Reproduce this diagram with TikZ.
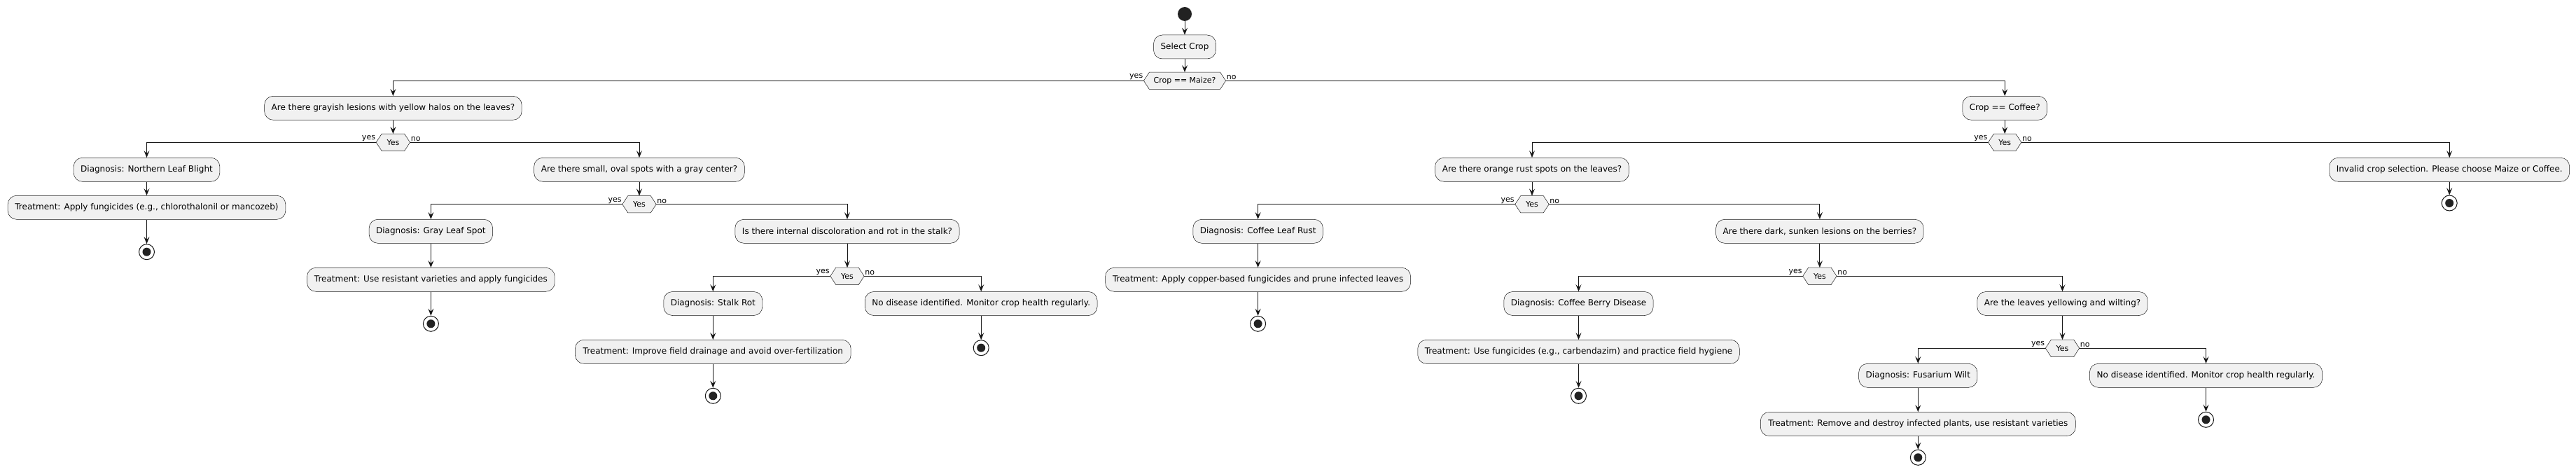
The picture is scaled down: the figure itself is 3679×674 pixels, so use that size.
\documentclass[tikz,border=0pt]{standalone}
\usepackage{fontspec}
\setmainfont{DejaVu Sans}
\usetikzlibrary{arrows.meta,backgrounds}
\definecolor{lc}{HTML}{181818}
\definecolor{bf}{HTML}{F1F1F1}
\definecolor{dk}{HTML}{222222}
\tikzset{
  act/.style={draw=lc, line width=0.5pt, fill=bf, rounded corners=12.5pt, minimum height=34pt,
    inner xsep=10pt, inner ysep=0pt, font=\fontsize{12}{14}\selectfont, text=black},
  dec/.style={minimum height=24pt, minimum width=48pt, inner xsep=14pt, inner ysep=0pt,
    font=\fontsize{11}{13}\selectfont, text=black},
  hexa/.style={draw=lc, fill=bf, line width=0.5pt},
  startnode/.style={circle, fill=dk, minimum size=20pt, inner sep=0pt},
  stopnode/.style={circle, draw=lc, line width=1pt, fill=white, minimum size=22pt, inner sep=0pt,
    path picture={\fill[dk] (path picture bounding box.center) circle (6pt);}},
  flow/.style={draw=lc, line width=1pt, -{Stealth[length=10pt,width=8pt,inset=4pt]}},
  lbl/.style={font=\fontsize{11}{13}\selectfont, inner sep=1pt, text=black},
}
\begin{document}
\begin{tikzpicture}[x=1pt,y=-1pt]
\useasboundingbox (0,0) rectangle (3679,674);
% top
\node[startnode] (s0) at (1692,20) {};
\node[act, minimum width=89pt] (b0) at (1692,67) {Select Crop};
\node[dec, minimum width=112pt] (d0) at (1692,115.3) {Crop == Maize?};
% maize branch
\node[act, minimum width=367.4pt] (q1) at (561.4,154.3) {Are there grayish lesions with yellow halos on the leaves?};
\node[dec] (d1) at (561.4,203.3) {Yes};
\node[act, minimum width=207.3pt] (nlb) at (209.5,242.3) {Diagnosis: Northern Leaf Blight};
\node[act, minimum width=396.7pt] (t1) at (209.5,296.3) {Treatment: Apply fungicides (e.g., chlorothalonil or mancozeb)};
\node[stopnode] (e1) at (209.5,359.7) {};
\node[act, minimum width=300.6pt] (q2) at (913,242.3) {Are there small, oval spots with a gray center?};
\node[dec] (d2) at (913,291.7) {Yes};
\node[act, minimum width=174.4pt] (gls) at (615.4,330.3) {Diagnosis: Gray Leaf Spot};
\node[act, minimum width=353.6pt] (t2) at (615.4,399.3) {Treatment: Use resistant varieties and apply fungicides};
\node[stopnode] (e2) at (615.4,462.3) {};
\node[act, minimum width=320.4pt] (q3) at (1210,330.3) {Is there internal discoloration and rot in the stalk?};
\node[dec] (d3) at (1210,394.3) {Yes};
\node[act, minimum width=138.9pt] (sr) at (1018.3,433.5) {Diagnosis: Stalk Rot};
\node[act, minimum width=393.8pt] (t3) at (1018.3,502.3) {Treatment: Improve field drainage and avoid over-fertilization};
\node[stopnode] (e3) at (1018.3,565.3) {};
\node[act, minimum width=331.2pt] (nd1) at (1401.2,433.5) {No disease identified. Monitor crop health regularly.};
\node[stopnode] (e4) at (1401.2,496.7) {};
% coffee branch
\node[act, minimum width=120.9pt] (cc) at (2863.2,154.3) {Crop == Coffee?};
\node[dec, minimum width=47pt] (d4) at (2863.2,203.3) {Yes};
\node[act, minimum width=276.8pt] (q4) at (2188,242.3) {Are there orange rust spots on the leaves?};
\node[dec] (d5) at (2188,291.7) {Yes};
\node[act, minimum width=182.4pt] (clr) at (1796.6,330.3) {Diagnosis: Coffee Leaf Rust};
\node[act, minimum width=436pt] (t4) at (1796.6,399.3) {Treatment: Apply copper-based fungicides and prune infected leaves};
\node[stopnode] (e5) at (1796.6,462.3) {};
\node[act, minimum width=295.9pt] (q5) at (2598.9,330.3) {Are there dark, sunken lesions on the berries?};
\node[dec] (d6) at (2598.9,394.3) {Yes};
\node[act, minimum width=211.1pt] (cbd) at (2254.5,433.5) {Diagnosis: Coffee Berry Disease};
\node[act, minimum width=459.1pt] (t5) at (2254.5,502.3) {Treatment: Use fungicides (e.g., carbendazim) and practice field hygiene};
\node[stopnode] (e6) at (2254.5,565.3) {};
\node[act, minimum width=243.4pt] (q6) at (2945.5,433.5) {Are the leaves yellowing and wilting?};
\node[dec] (d7) at (2945.5,497.3) {Yes};
\node[act, minimum width=168.7pt] (fw) at (2739.3,536.3) {Diagnosis: Fusarium Wilt};
\node[act, minimum width=450pt] (t6) at (2739.3,605.5) {Treatment: Remove and destroy infected plants, use resistant varieties};
\node[stopnode] (e7) at (2739.3,653.3) {};
\node[act, minimum width=332.3pt] (nd2) at (3150.5,536.3) {No disease identified. Monitor crop health regularly.};
\node[stopnode] (e8) at (3150.5,599.3) {};
\node[act, minimum width=341.2pt] (inv) at (3498.2,242.3) {Invalid crop selection. Please choose Maize or Coffee.};
\node[stopnode] (e9) at (3498.2,290) {};
% hexagons behind decision texts
\begin{scope}[on background layer]
\foreach \n in {d0,d1,d2,d3,d4,d5,d6,d7}
  \filldraw[hexa] ([xshift=8pt]\n.north west) -- ([xshift=-8pt]\n.north east) -- (\n.east)
    -- ([xshift=-8pt]\n.south east) -- ([xshift=8pt]\n.south west) -- (\n.west) -- cycle;
\end{scope}
% branch labels
\foreach \n in {d0,d1,d2,d3,d4,d5,d6,d7}{
  \node[lbl, anchor=south east] (\n yes) at (\n.west) {yes};
  \node[lbl, anchor=south west] (\n no) at (\n.east) {no};
}
% connectors
\draw[flow] (s0.south) -- (s0.south |- b0.north);
\draw[flow] (b0.south) -- (b0.south |- d0.north);
\draw[flow] (d0.west) -| (q1.north);
\draw[flow] (d0.east) -| (cc.north);
% maize
\draw[flow] (q1.south) -- (q1.south |- d1.north);
\draw[flow] (d1.west) -| (nlb.north);
\draw[flow] (d1.east) -| (q2.north);
\draw[flow] (nlb.south) -- (nlb.south |- t1.north);
\draw[flow] (t1.south) -- (t1.south |- e1.north);
\draw[flow] (q2.south) -- (q2.south |- d2.north);
\draw[flow] (d2.west) -| (gls.north);
\draw[flow] (d2.east) -| (q3.north);
\draw[flow] (gls.south) -- (gls.south |- t2.north);
\draw[flow] (t2.south) -- (t2.south |- e2.north);
\draw[flow] (q3.south) -- (q3.south |- d3.north);
\draw[flow] (d3.west) -| (sr.north);
\draw[flow] (d3.east) -| (nd1.north);
\draw[flow] (sr.south) -- (sr.south |- t3.north);
\draw[flow] (t3.south) -- (t3.south |- e3.north);
\draw[flow] (nd1.south) -- (nd1.south |- e4.north);
% coffee
\draw[flow] (cc.south) -- (cc.south |- d4.north);
\draw[flow] (d4.west) -| (q4.north);
\draw[flow] (d4.east) -| (inv.north);
\draw[flow] (inv.south) -- (inv.south |- e9.north);
\draw[flow] (q4.south) -- (q4.south |- d5.north);
\draw[flow] (d5.west) -| (clr.north);
\draw[flow] (d5.east) -| (q5.north);
\draw[flow] (clr.south) -- (clr.south |- t4.north);
\draw[flow] (t4.south) -- (t4.south |- e5.north);
\draw[flow] (q5.south) -- (q5.south |- d6.north);
\draw[flow] (d6.west) -| (cbd.north);
\draw[flow] (d6.east) -| (q6.north);
\draw[flow] (cbd.south) -- (cbd.south |- t5.north);
\draw[flow] (t5.south) -- (t5.south |- e6.north);
\draw[flow] (q6.south) -- (q6.south |- d7.north);
\draw[flow] (d7.west) -| (fw.north);
\draw[flow] (d7.east) -| (nd2.north);
\draw[flow] (fw.south) -- (fw.south |- t6.north);
\draw[flow] (t6.south) -- (t6.south |- e7.north);
\draw[flow] (nd2.south) -- (nd2.south |- e8.north);
\end{tikzpicture}
\end{document}
